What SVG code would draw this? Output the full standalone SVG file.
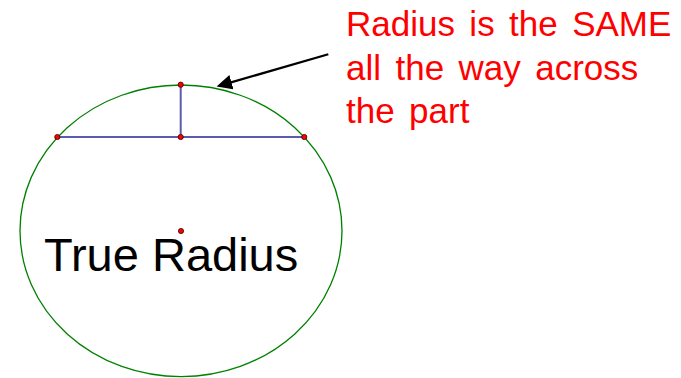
<svg xmlns="http://www.w3.org/2000/svg" width="681" height="378" viewBox="0 0 681 378">
  <style>
    .outline { fill: none; stroke: #008000; stroke-width: 1.3; }
    .seg { stroke: #5b5bb0; stroke-width: 2; fill: none; }
    .pt { fill: #ff0000; stroke: #400000; stroke-width: 0.8; }
    .lbl { font-family: "Liberation Sans", Arial, sans-serif; }
    .arrow { stroke: #000000; stroke-width: 2.2; fill: none; }
  </style>
  <defs>
    <marker id="ah" markerUnits="userSpaceOnUse" viewBox="0 0 16 15" markerWidth="16" markerHeight="15" refX="0.5" refY="7.5" orient="auto">
      <path d="M0,0 L15.5,7.5 L0,15 z" fill="#000000"/>
    </marker>
  </defs>
  <rect width="681" height="378" fill="#ffffff"/>
  <g id="part">
    <ellipse class="outline" cx="181" cy="230.8" rx="161" ry="145.8"/>
  </g>
  <g id="chord">
    <line class="seg" x1="57.3" y1="137" x2="304.3" y2="137"/>
    <line class="seg" x1="180.7" y1="84.7" x2="180.7" y2="137"/>
  </g>
  <g id="points">
    <circle class="pt" cx="57.3" cy="137" r="2.6"/>
    <circle class="pt" cx="180.7" cy="137" r="2.6"/>
    <circle class="pt" cx="304.3" cy="137" r="2.6"/>
    <circle class="pt" cx="180.7" cy="84.7" r="2.6"/>
  </g>
  <g id="center-label">
    <text class="lbl" x="44" y="271" font-size="47" fill="#000000">True Radius</text>
    <circle class="pt" cx="181" cy="231" r="2.6"/>
  </g>
  <g id="note">
    <text class="lbl" font-size="35" fill="#ff0000" word-spacing="4.7">
      <tspan x="346" y="35.7">Radius is the SAME</tspan>
      <tspan x="346" y="79.5">all the way across</tspan>
      <tspan x="346" y="123">the part</tspan>
    </text>
  </g>
  <g id="connectors">
    <line class="arrow" x1="328.3" y1="54.3" x2="231" y2="82.4" marker-end="url(#ah)"/>
  </g>
</svg>
